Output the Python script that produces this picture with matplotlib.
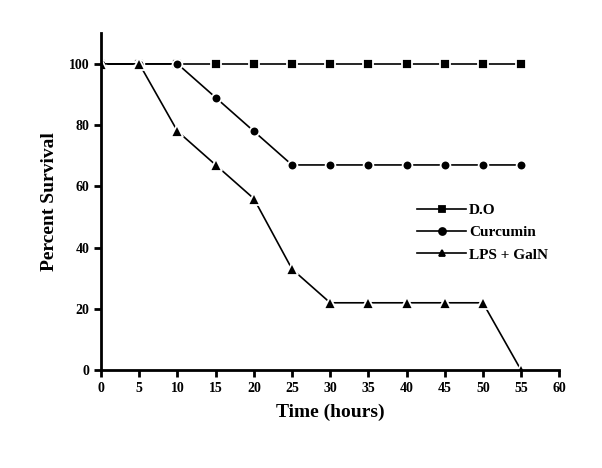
import matplotlib
matplotlib.use("Agg")
import matplotlib.pyplot as plt

time = [0, 5, 10, 15, 20, 25, 30, 35, 40, 45, 50, 55]
do_vals = [100, 100, 100, 100, 100, 100, 100, 100, 100, 100, 100, 100]
curcumin = [100, 100, 100, 89, 78, 67, 67, 67, 67, 67, 67, 67]
lps_galn = [100, 100, 78, 67, 56, 33, 22, 22, 22, 22, 22, 0]
labels = ["D.O", "Curcumin", "LPS + GalN"]
xticks = list(range(0, 61, 5))
yticks = [0, 20, 40, 60, 80, 100]

plt.rcParams['font.family'] = ['Liberation Serif', 'DejaVu Serif']
plt.rcParams['font.weight'] = 'bold'

fig = plt.figure(figsize=(6.02, 4.68), dpi=100)
ax = fig.add_axes([0.168, 0.209, 0.761, 0.72])

common = dict(color='black', lw=1.2, mec='white', mew=1.3, mfc='black')
ax.plot(time, do_vals, marker='s', ms=6.5, label=labels[0], **common)
ax.plot(time, curcumin, marker='o', ms=7, label=labels[1], **common)
ax.plot(time, lps_galn, marker='^', ms=8, label=labels[2], **common)

ax.set_xlim(0, 60)
ax.set_ylim(0, 110)
ax.set_xticks(xticks)
ax.set_yticks(yticks)
for s in ['top', 'right']:
    ax.spines[s].set_visible(False)
for s in ['left', 'bottom']:
    ax.spines[s].set_linewidth(2)
ax.tick_params(direction='out', length=5, width=2, labelsize=10)
for t in ax.get_xticklabels() + ax.get_yticklabels():
    t.set_fontweight('bold')

ax.set_xlabel("Time (hours)", fontsize=14, fontweight='bold', labelpad=6)
ax.set_ylabel("Percent Survival", fontsize=14, fontweight='bold', labelpad=8)

leg = ax.legend(loc='upper left', bbox_to_anchor=(0.66, 0.535), frameon=False,
                prop={'weight': 'bold', 'size': 11}, handlelength=3.2,
                handletextpad=0.2, labelspacing=0.55)
for h in leg.legend_handles:
    h.set_markeredgecolor('black')
    h.set_markersize(5)

fig.savefig("out.png", dpi=100)
